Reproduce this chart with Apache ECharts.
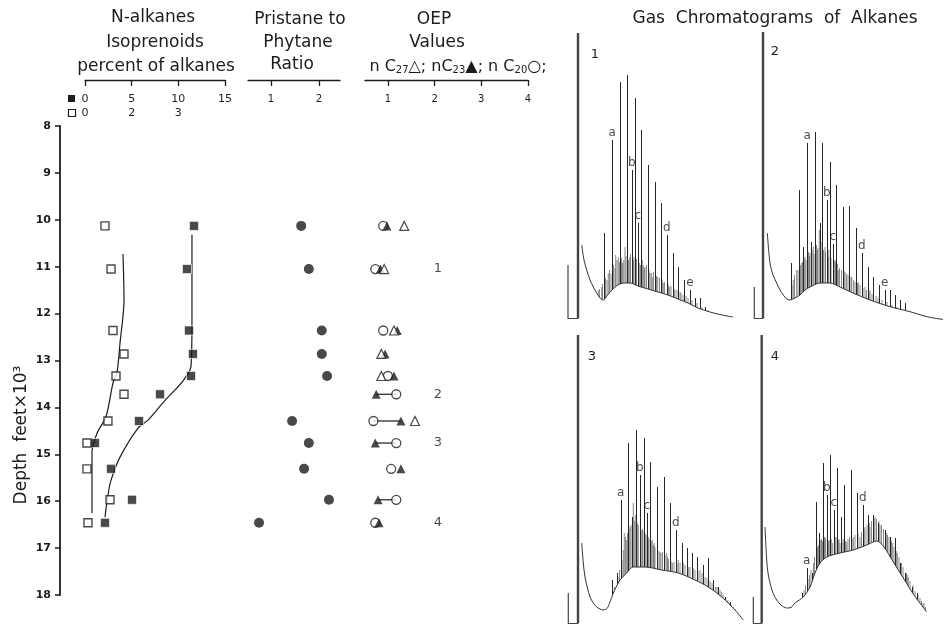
<!DOCTYPE html>
<html><head><meta charset="utf-8">
<script src="https://cdn.jsdelivr.net/npm/echarts@6/dist/echarts.min.js"></script>
<style>html,body{margin:0;padding:0;background:#fff}#c{width:944px;height:626px}</style>
</head><body><div id="c"></div><script>
// ---------- data: left panels (depth in thousands of feet) ----------
const depths       = [10.13, 11.05, 12.36, 12.86, 13.33, 13.72, 14.29, 14.76, 15.31, 15.97, 16.46];
const nAlkanes     = [11.68, 10.93, 11.14, 11.57, 11.36, 8.04, 5.79, 1.07, 2.79, 5.04, 2.14];
// isoprenoids, read on the shared top scale
const isoprenoids  = [2.14, 2.79, 3.0, 4.18, 3.32, 4.18, 2.46, 0.21, 0.21, 2.68, 0.32];
const alkTrend = [[11.46,10.32],[11.46,12.16],[11.36,13.12],[10.39,13.46],[8.57,13.85],[6.75,14.27],[5.68,14.44],[3.75,15.06],[2.79,15.55],[2.46,15.87],[2.14,16.34]];
const isoTrend = [[4.07,10.73],[4.18,11.71],[3.75,12.63],[3.43,13.25],[3.0,13.48],[2.25,14.2],[1.29,14.55],[0.75,14.95],[0.75,16.25]];
const depthTicks = [8, 18, 1]; // min, max, step
const alkTicks = [0, 5, 10, 15];
const isoTickLabels = ['0', '2', '3', ''];
const pristanePhytane = [1.63, 1.79, 2.06, 2.06, 2.17, null, 1.44, 1.79, 1.69, 2.21, 0.75];
const prTicks = [1, 2];
const oepC27 = [1.35, 0.92, 1.13, 0.86, 0.86, null, 1.58, null, null, null, null];
const oepC23 = [0.98, 0.84, 1.20, 0.94, 1.13, 0.75, 1.28, 0.73, 1.28, 0.79, 0.81];
const oepC20 = [0.90, 0.73, 0.90, null, 1.00, 1.18, 0.69, 1.18, 1.07, 1.18, 0.73];
const oepLinked = [false, false, false, false, false, true, true, true, false, true, false];
const oepTicks = [1, 2, 3, 4];
const sampleNumbers = ['', '1', '', '', '', '2', '', '3', '', '', '4'];

// ---------- data: gas chromatograms (arbitrary retention / response units) ----------
const solventPeaks = [[18, 287], [18, 288], [18, 290], [16.7, 290]];
const injectionMarks = [[8, 55], [9.3, 33], [8.3, 32], [8.3, 28]];
const chrom1Curve = [[21.7,75],[24,60],[26.7,50],[30,40],[33.3,33],[36.7,27],[40,22],[43.3,20],[46.7,24],[52,30],[58,35],[64,37],[70,37],[78,34],[88,31],[98,28],[108,25],[118,21],[128,17],[138,12],[150,8],[162,5],[173,3]];
const chrom1Peaks = [[44.3,87],[52.3,180,'a'],[60.3,238],[67.3,245],[71.7,150,'b'],[75,222],[77.7,97,'c'],[81.3,190],[88,155],[95,138],[101,117],[106.7,85,'d'],[112.7,67],[118.3,53],[124.3,40],[130,30,'e'],[135,22],[140.3,22],[145,13]];
const chrom1Minor = [[38.3,30],[41.7,33],[48.3,47],[55.7,65],[58.3,63],[63.7,60],[65,73],[69.7,63],[73.3,60],[79.3,57],[83.3,55],[85,53],[90,47],[92.3,43],[97.7,43],[103.3,37],[109.7,33],[115,30],[121,27],
  [39.5,31],[42.5,36],[45.5,42],[47,40],[49.5,50],[51,46],[53.5,55],[55,52],[57,60],[59.5,58],[61.5,62],[62.5,57],[66,64],[68.5,60],[70.5,66],[72.5,58],[74,63],[76.5,61],[78.5,58],[80.5,55],[82.3,60],[84.3,52],[86.5,55],[89,50],[91.3,47],[93.5,48],[96.5,44],[99.5,42],[102.3,40],[104.5,38],[108.5,35],[111,34],[114,31],[117,30],[120,28],[123,25],[126,24],[128,22],[132,20],[137,17],[142,13],[148,10]];
const chrom2Curve = [[22.3,87],[25,57],[28,45],[31.7,37],[35,30],[38.3,25],[41.7,21],[45,20],[50,22],[55,25],[60,30],[65,33],[75,37],[85,37],[95,33],[108,27],[125,20],[145,13.3],[165,8.3],[182,3.3],[198,0.5]];
const chrom2Peaks = [[45.7,57],[54,130],[58.3,73],[62.3,177,'a'],[65.7,78],[70.3,188],[75,97],[77.3,177],[81.7,120,'b'],[84.7,158],[87.7,76,'c'],[91,135],[98,113],[104.3,114],[111,92],[116.7,67,'d'],[122.7,53],[128.3,43],[134.3,35],[139.7,30,'e'],[145,30],[150,25],[155,20],[160,17]];
const chrom2Minor = [[48.3,40],[51.7,50],[56.7,57],[60,63],[65,67],[68.3,73],[72.3,70],[74.3,90],[80,73],[83.3,63],[90,60],[93.3,50],[100,48],[106.7,43],[113.3,38],[120,33],[125,30],
  [47,35],[49.5,45],[53,50],[55.5,55],[57.5,58],[59,62],[61,60],[63.5,68],[64.5,64],[67,70],[69,66],[71.5,75],[73,72],[76,78],[78.5,70],[80.5,68],[82.5,66],[83.8,70],[86,62],[89,60],[90.5,58],[92.5,56],[94.5,52],[96.5,50],[99,49],[101.5,46],[103,45],[106,43],[108.5,40],[110,38],[112.5,37],[115,35],[118,32],[121.5,30],[124,28],[127,26],[131,24],[133,22],[137,20],[142,18],[147,15],[152,13],[157,11],[163,9],[168,7]];
const chrom3Curve = [[21.7,82],[23.3,62],[25,48],[27.5,37],[30,28],[33.3,22],[36.7,18],[40,16],[43.3,15],[47,16.5],[50,23],[53.3,32],[56.7,39],[60,45],[66.7,52],[73.3,58],[85,58],[101.7,55],[118.3,52],[135,45],[148.3,38],[161.7,28],[175,15],[183.3,5]];
const chrom3Peaks = [[52.3,45],[56.7,52],[60.7,125,'a'],[68.3,182],[72.3,108],[76.3,195],[79.7,150,'b'],[83.7,187],[86.7,112,'c'],[90.3,163],[96.7,138],[103.7,148],[109.7,122],[115.7,95,'d'],[121.7,82],[126.7,77],[131.7,72],[136.7,68],[143.3,60],[148.3,67],[153.3,45],[158.3,38],[165,28],[170,23]];
const chrom3Minor = [[64.3,92],[66.7,85],[70,98],[73.3,122],[77.3,102],[81.3,95],[85,92],[88.3,88],[92.3,85],[95,78],[100,73],[106.7,72],[112.3,62],[118.3,65],[123.3,62],[128.3,58],[133.3,57],[140,55],[145,48],[155.7,38],[161.7,33],[167.7,25],[173.3,18],
  [54.5,38],[58,48],[59.5,55],[62,65],[63.3,75],[65.5,88],[67.5,92],[69,96],[71,100],[74.3,104],[75.3,110],[78.3,100],[80.5,98],[82.5,96],[84,94],[86,90],[87.3,93],[89,86],[91.3,84],[93.5,80],[94.3,82],[97.5,76],[99,74],[101,72],[102.5,73],[105,70],[107.5,68],[108.5,66],[111,64],[114,63],[117,62],[120,62],[122.5,60],[125,60],[130,58],[135,55],[138,54],[142,52],[147,47],[150,44],[152,42],[157,38],[160,35],[163,30],[169,23],[171.5,20],[175,16],[178,12],[181,8]];
const chrom4Curve = [[20,98],[21.7,65],[23,52],[25,42],[28,32],[31.7,25],[36,20],[41.7,17],[46,17.5],[50,22],[58.3,28],[65,38],[70,52],[75,62],[81.7,68],[95,72],[108.3,75],[121.7,80],[131.7,84],[138.3,79],[148.3,63],[158.3,47],[168.3,31],[181.7,13]];
const chrom4Peaks = [[56.7,32],[61.7,57,'a'],[67.3,52],[70.7,123],[74.3,92],[78.3,162],[81.7,130,'b'],[85.3,170],[88.7,115,'c'],[92.3,157],[96,108],[99.3,140],[105.7,155],[111.7,132],[117.7,120,'d'],[123.3,110],[128.3,110],[133.3,102],[140,95],[145,88],[150,87],[155,62],[160,52],[166.7,38],[171.7,32]];
const chrom4Minor = [[71.7,85],[75.7,85],[80,88],[84.3,85],[87.7,82],[91,88],[95,82],[101.7,83],[108.3,88],[115,88],[120,98],[125,98],[130,108],[135,100],[141.7,92],[147.7,82],[152.3,72],[163.3,48],[175,27],[179,22],
  [59,35],[60.5,40],[63,46],[64.5,50],[66,55],[68.5,62],[69.5,68],[72.5,78],[73.5,80],[76.5,86],[77.5,84],[79.3,88],[80.7,86],[82.5,90],[83.5,84],[86.3,86],[89.5,84],[90,88],[93.3,85],[94,86],[97,83],[98.3,86],[100.5,84],[103,86],[104.5,88],[107,86],[110,90],[113,92],[116.5,93],[119,96],[122,100],[124.3,102],[126.5,104],[129,106],[131.5,106],[134,104],[136.5,100],[138.5,96],[142.5,90],[144,88],[146.5,84],[149,78],[151.3,74],[154,68],[156.5,62],[158,58],[161.5,52],[162.3,50],[165,44],[168,40],[170,34],[173,30],[176.5,24],[178,22],[180.5,18]];
const chromNames = ['1', '2', '3', '4'];

// ---------- build ----------
const FONT = '"DejaVu Sans", sans-serif';
const INK = '#1c1c1c';
const chart = echarts.init(document.getElementById('c'));
const byDepth = vals => depths.map((d, i) => vals[i] == null ? null : [vals[i], d]).filter(Boolean);

const grids = [
  {left: 85, top: 126, width: 140, height: 469},
  {left: 248, top: 126, width: 92, height: 469},
  {left: 365, top: 126, width: 163, height: 469},
  {left: 560, top: 20, width: 185, height: 300},
  {left: 745, top: 20, width: 199, height: 300},
  {left: 560, top: 325, width: 185, height: 300},
  {left: 745, top: 325, width: 199, height: 300},
  {left: 60, top: 126, width: 20, height: 469}
];

function topAxis(gi, min, max, extra) {
  return Object.assign({
    gridIndex: gi, type: 'value', position: 'top', offset: 46, min: min, max: max,
    axisLine: {show: true, lineStyle: {color: INK, width: 1.3}},
    axisTick: {show: true, inside: true, length: 6, lineStyle: {color: INK, width: 1.3}},
    axisLabel: {inside: true, margin: 14, color: INK, fontSize: 10, fontFamily: FONT},
    splitLine: {show: false}
  }, extra || {});
}
const xAxes = [
  topAxis(0, 0, 15, {interval: 5, axisLabel: {inside: true, margin: 12, color: INK, fontSize: 11, lineHeight: 14, fontFamily: FONT,
    formatter: v => v + '\n' + isoTickLabels[alkTicks.indexOf(v)]}}),
  topAxis(1, 0.52, 2.44, {axisTick: {show: true, inside: true, length: 6, customValues: prTicks, lineStyle: {color: INK, width: 1.3}},
    axisLabel: {inside: true, margin: 14, color: INK, fontSize: 10, fontFamily: FONT, customValues: prTicks}}),
  topAxis(2, 0.51, 4.0, {axisTick: {show: true, inside: true, length: 6, customValues: oepTicks, lineStyle: {color: INK, width: 1.3}},
    axisLabel: {inside: true, margin: 14, color: INK, fontSize: 10, fontFamily: FONT, customValues: oepTicks}})
];
const yAxes = [
  {gridIndex: 0, type: 'value', min: depthTicks[0], max: depthTicks[1], inverse: true, show: false},
  {gridIndex: 1, type: 'value', min: depthTicks[0], max: depthTicks[1], inverse: true, show: false},
  {gridIndex: 2, type: 'value', min: depthTicks[0], max: depthTicks[1], inverse: true, show: false}
];
for (let k = 0; k < 4; k++) {
  xAxes.push({gridIndex: 3 + k, type: 'value', min: 0, max: grids[3 + k].width, show: false});
  yAxes.push({gridIndex: 3 + k, type: 'value', min: 0, max: 300, show: false});
}
// depth axis
xAxes.push({gridIndex: 7, type: 'value', min: 0, max: 1, show: false});
yAxes.push({gridIndex: 7, type: 'value', min: depthTicks[0], max: depthTicks[1], interval: depthTicks[2], inverse: true, position: 'left',
  axisLine: {show: true, lineStyle: {color: INK, width: 1.8}},
  axisTick: {show: true, length: 5, lineStyle: {color: INK, width: 1.5}},
  axisLabel: {margin: 9, color: INK, fontSize: 11, fontWeight: 'bold', fontFamily: FONT},
  splitLine: {show: false}});

const series = [
  {type: 'line', xAxisIndex: 0, yAxisIndex: 0, data: alkTrend, smooth: 0.3, symbol: 'none', z: 2,
   lineStyle: {color: INK, width: 1.2}},
  {type: 'line', xAxisIndex: 0, yAxisIndex: 0, data: isoTrend, smooth: 0.3, symbol: 'none', z: 2,
   lineStyle: {color: INK, width: 1.2}},
  {type: 'scatter', xAxisIndex: 0, yAxisIndex: 0, data: byDepth(nAlkanes), symbol: 'rect', symbolSize: 9, z: 4,
   itemStyle: {color: INK, borderColor: '#fff', borderWidth: 0.8}},
  {type: 'scatter', xAxisIndex: 0, yAxisIndex: 0, data: byDepth(isoprenoids), symbol: 'rect', symbolSize: 8, z: 4,
   itemStyle: {color: '#fff', borderColor: INK, borderWidth: 1.4}},
  {type: 'scatter', xAxisIndex: 1, yAxisIndex: 1, data: byDepth(pristanePhytane), symbol: 'circle', symbolSize: 10, z: 4,
   itemStyle: {color: INK}},
  {type: 'custom', xAxisIndex: 2, yAxisIndex: 2, z: 2,
   data: depths.map((d, i) => [oepC23[i], oepC20[i], d]).filter((r, i) => oepLinked[i]),
   encode: {x: [0, 1], y: 2},
   renderItem: (p, api) => {
     const a = api.coord([api.value(0), api.value(2)]), b = api.coord([api.value(1), api.value(2)]);
     return {type: 'line', shape: {x1: a[0], y1: a[1], x2: b[0], y2: b[1]}, style: {stroke: INK, lineWidth: 1.2}};
   }},
  {type: 'scatter', xAxisIndex: 2, yAxisIndex: 2, data: byDepth(oepC20), symbol: 'circle', symbolSize: 9, z: 3,
   itemStyle: {color: '#fff', borderColor: INK, borderWidth: 1.3}},
  {type: 'scatter', xAxisIndex: 2, yAxisIndex: 2, data: byDepth(oepC23), symbol: 'triangle', symbolSize: 9, z: 4,
   itemStyle: {color: INK}},
  {type: 'scatter', xAxisIndex: 2, yAxisIndex: 2, data: byDepth(oepC27), symbol: 'triangle', symbolSize: 9, z: 5,
   itemStyle: {color: '#fff', borderColor: INK, borderWidth: 1.2}},
  {type: 'scatter', xAxisIndex: 2, yAxisIndex: 2, symbolSize: 1, z: 5, itemStyle: {color: 'rgba(0,0,0,0)'},
   data: depths.map((d, i) => [2.07, d, sampleNumbers[i]]).filter(r => r[2]),
   label: {show: true, position: 'inside', formatter: p => p.data[2], color: INK, fontSize: 13, fontFamily: FONT}}
];

const chroms = [
  [chrom1Curve, chrom1Peaks, chrom1Minor],
  [chrom2Curve, chrom2Peaks, chrom2Minor],
  [chrom3Curve, chrom3Peaks, chrom3Minor],
  [chrom4Curve, chrom4Peaks, chrom4Minor]
];
function spikeSeries(ax, data, color, width, snap, z) {
  return {
    type: 'custom', xAxisIndex: ax, yAxisIndex: ax, z: z, silent: true,
    data: data, encode: {x: 0, y: 1},
    renderItem: (p, api) => {
      const t = api.coord([api.value(0), api.value(1)]);
      const b = api.coord([api.value(0), 0]);
      const x = snap ? Math.round(t[0]) + 0.5 : t[0];
      return {type: 'line', shape: {x1: x, y1: t[1], x2: x, y2: b[1]}, style: {stroke: color, lineWidth: width}};
    }
  };
}
chroms.forEach((c, k) => {
  const ax = 3 + k;
  const [curve, peaks, minor] = c;
  const [sx, sTop] = solventPeaks[k];
  const [ix, iTop] = injectionMarks[k];
  series.push(spikeSeries(ax, minor, '#5a5a5a', 0.7, false, 1));
  series.push(spikeSeries(ax, peaks.map(p => [p[0], p[1]]), '#262626', 1, true, 2));
  series.push({type: 'line', xAxisIndex: ax, yAxisIndex: ax, z: 3, data: curve, smooth: 0.3, symbol: 'none',
    lineStyle: {color: '#333', width: 1}, areaStyle: {color: '#fff', opacity: 1}});
  series.push({type: 'line', xAxisIndex: ax, yAxisIndex: ax, z: 4, data: [[sx, 1.5], [sx, sTop]], symbol: 'none',
    lineStyle: {color: '#444', width: 2.4}});
  series.push({type: 'line', xAxisIndex: ax, yAxisIndex: ax, z: 4, data: [[ix, iTop], [ix, 1.5], [sx, 1.5]], symbol: 'none',
    lineStyle: {color: '#444', width: 1.2}});
  series.push({type: 'scatter', xAxisIndex: ax, yAxisIndex: ax, z: 5, symbolSize: 1, itemStyle: {color: 'rgba(0,0,0,0)'},
    data: peaks.filter(p => p[2]),
    label: {show: true, position: 'top', distance: 1, formatter: p => p.data[2], color: INK, fontSize: 12, fontFamily: FONT}});
});

const txt = (x, y, text, size, extra) => ({type: 'text', x: x, y: y, z: 10,
  style: Object.assign({text: text, font: (size || 17) + 'px ' + FONT, fill: INK, textAlign: 'center', textVerticalAlign: 'middle'}, extra || {})});

const graphic = [
  txt(153, 18, 'N-alkanes'), txt(155, 43, 'Isoprenoids'), txt(156, 67, 'percent of alkanes'),
  txt(300, 20, 'Pristane to'), txt(298, 43, 'Phytane'), txt(292, 65, 'Ratio'),
  txt(434, 20, 'OEP'), txt(437, 43, 'Values'),
  {type: 'text', x: 458, y: 67, z: 10, style: {
    text: 'n C{s|27}△; nC{s|23}▲; n C{s|20}○;', font: '16px ' + FONT, fill: INK, textAlign: 'center', textVerticalAlign: 'middle',
    rich: {s: {fontSize: 10, fontFamily: FONT, fill: INK, padding: [7, 0, 0, 0]}}}},
  txt(775, 19, 'Gas  Chromatograms  of  Alkanes', 17),
  txt(595, 55, chromNames[0], 13), txt(775, 52, chromNames[1], 13),
  txt(592, 357, chromNames[2], 13), txt(775, 357, chromNames[3], 13),
  {type: 'text', x: 22, y: 435, rotation: Math.PI / 2, z: 10,
   style: {text: 'Depth  feet×10³', font: '17px ' + FONT, fill: INK, textAlign: 'center', textVerticalAlign: 'middle'}},
  {type: 'rect', z: 10, shape: {x: 68, y: 95, width: 7, height: 7}, style: {fill: INK}},
  {type: 'rect', z: 10, shape: {x: 68.5, y: 109.5, width: 7, height: 7}, style: {fill: '#fff', stroke: INK, lineWidth: 1.2}}
];

chart.setOption({
  backgroundColor: '#fff', animation: false,
  grid: grids, xAxis: xAxes, yAxis: yAxes, series: series, graphic: graphic
});
</script></body></html>
